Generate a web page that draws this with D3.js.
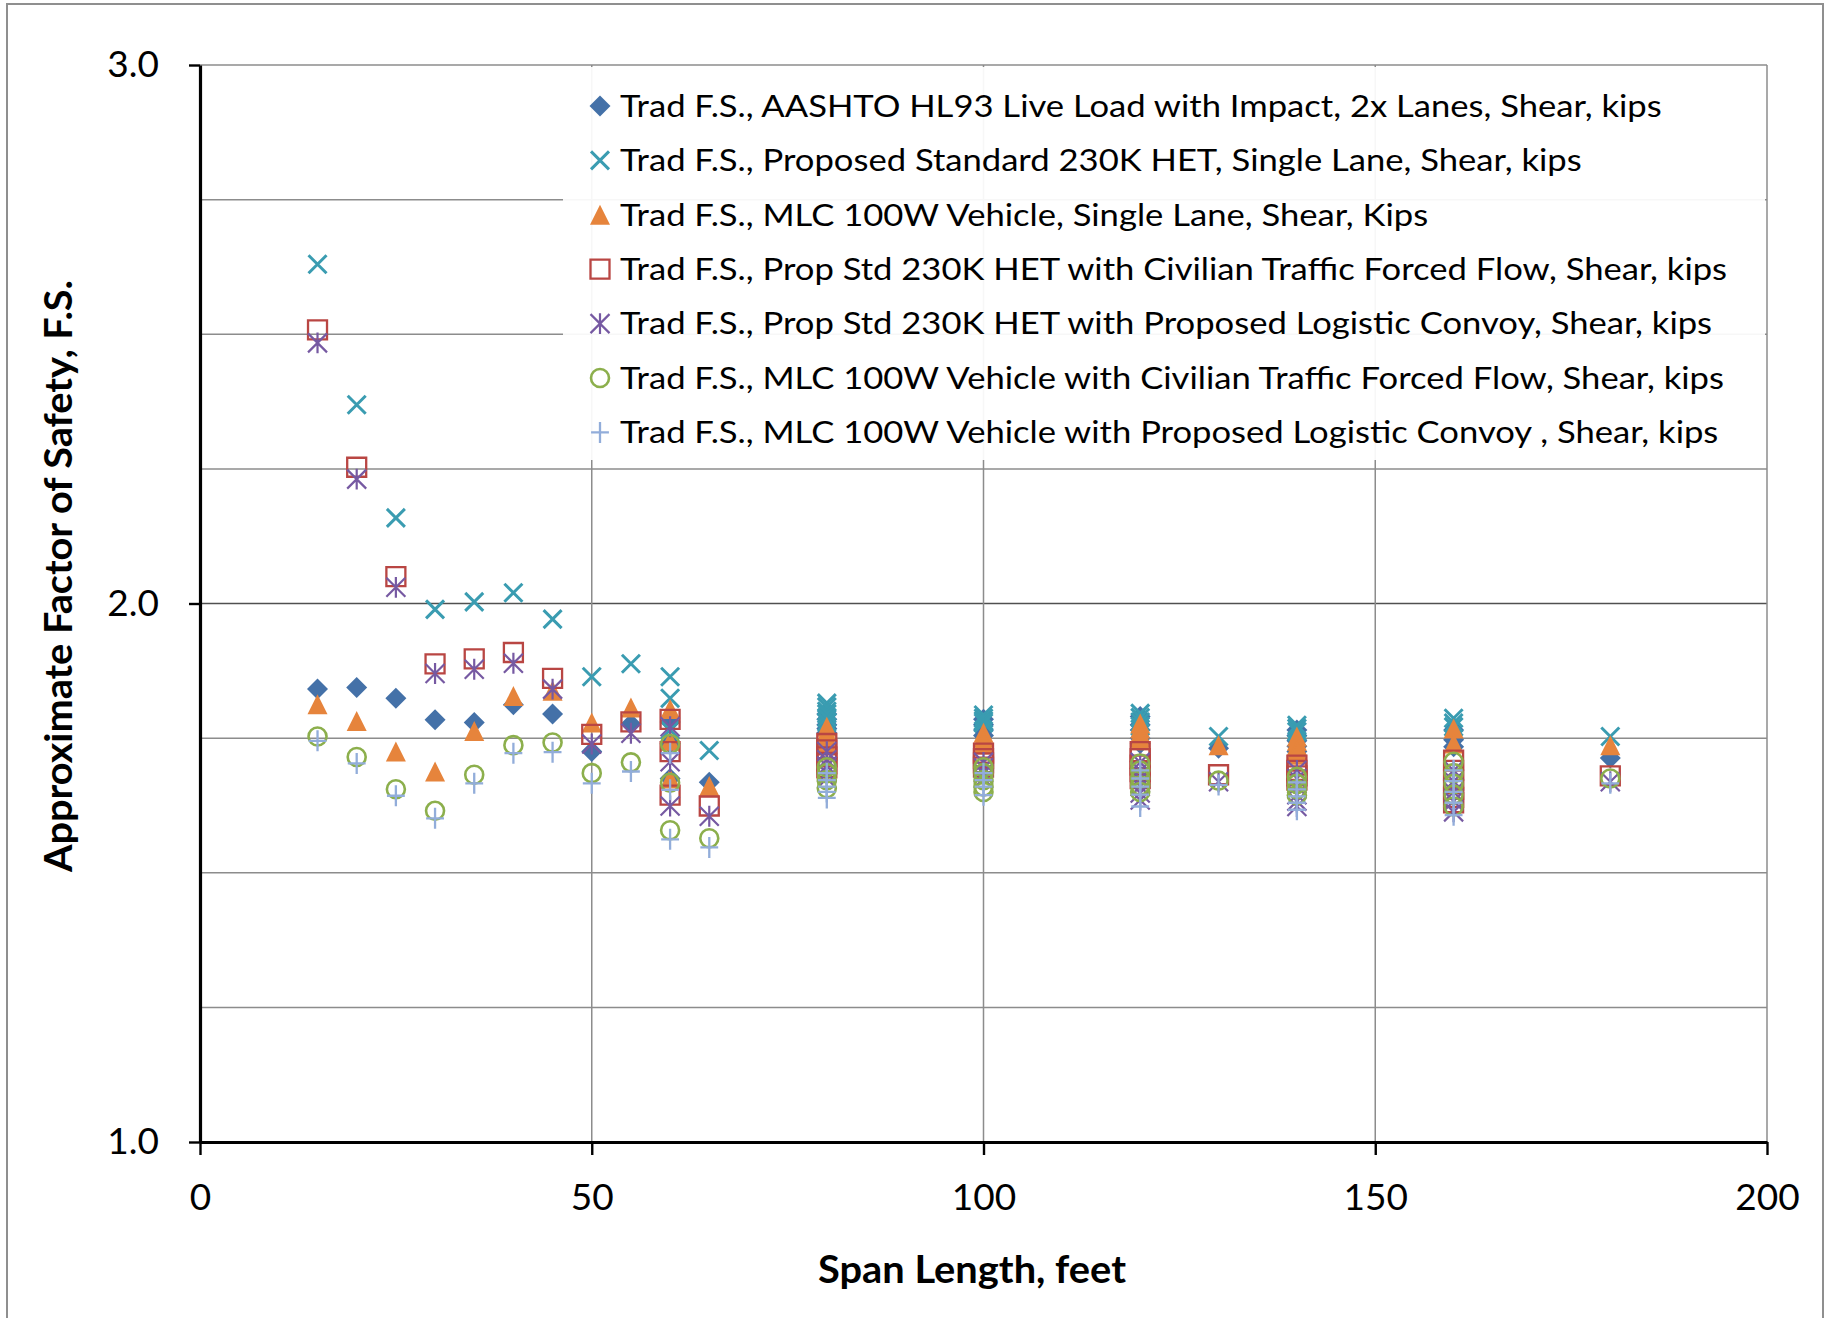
<!DOCTYPE html>
<html><head><meta charset="utf-8">
<script src="https://cdn.jsdelivr.net/npm/d3@7"></script>
<style>
body{margin:0;background:#fff}
text{font-family:Lato, "Open Sans", sans-serif; fill:#000}
</style>
</head><body>
<svg id="chart" width="1827" height="1318"></svg>
<script>
// ---------------- DATA ----------------
const seriesNames = [
  "Trad F.S., AASHTO HL93 Live Load with Impact, 2x Lanes, Shear, kips",
  "Trad F.S., Proposed Standard 230K HET, Single Lane, Shear, kips",
  "Trad F.S., MLC 100W Vehicle, Single Lane, Shear, Kips",
  "Trad F.S., Prop Std 230K HET with Civilian Traffic Forced Flow, Shear, kips",
  "Trad F.S., Prop Std 230K HET with Proposed Logistic Convoy, Shear, kips",
  "Trad F.S., MLC 100W Vehicle with Civilian Traffic Forced Flow, Shear, kips",
  "Trad F.S., MLC 100W Vehicle with Proposed Logistic Convoy , Shear, kips"
];
const xTickValues = [0, 50, 100, 150, 200];
const yTickValues = [1.0, 2.0, 3.0];
const yMinorGrid = [1.25, 1.5, 1.75, 2.25, 2.5, 2.75, 3.0];
const yMajorGrid = [2.0];
const xAxisTitle = "Span Length, feet";
const yAxisTitle = "Approximate Factor of Safety, F.S.";

// [span (ft), factor of safety]
const hl93 = [[15,1.841],[20,1.844],[25,1.824],[30,1.784],[35,1.779],[40,1.812],[45,1.795],[50,1.725],[55,1.776],
  [60,1.78],[60,1.74],[60,1.675],[65,1.668],
  [80,1.795],[80,1.785],[80,1.775],[80,1.768],[80,1.76],
  [100,1.785],[100,1.775],[100,1.765],[100,1.755],
  [120,1.79],[120,1.775],[120,1.765],[120,1.75],[120,1.74],
  [130,1.731],
  [140,1.765],[140,1.755],[140,1.745],[140,1.735],[140,1.725],
  [160,1.765],[160,1.747],[160,1.734],
  [180,1.713]];
const het = [[15,2.630],[20,2.369],[25,2.159],[30,1.989],[35,2.003],[40,2.020],[45,1.971],[50,1.864],[55,1.888],
  [60,1.864],[60,1.824],[60,1.765],[65,1.727],
  [80,1.815],[80,1.808],[80,1.800],[80,1.795],[80,1.788],[80,1.78],
  [100,1.793],[100,1.787],[100,1.782],[100,1.778],
  [120,1.796],[120,1.788],[120,1.78],[120,1.772],
  [130,1.753],
  [140,1.774],[140,1.768],[140,1.762],
  [160,1.787],[160,1.778],[160,1.771],
  [180,1.753]];
const mlc = [[15,1.813],[20,1.782],[25,1.725],[30,1.688],[35,1.763],[40,1.828],[45,1.838],[50,1.779],[55,1.807],
  [60,1.804],[60,1.745],[60,1.675],[65,1.661],
  [80,1.771],[80,1.762],[80,1.752],[80,1.742],
  [100,1.760],[100,1.752],[100,1.745],[100,1.738],
  [120,1.777],[120,1.768],[120,1.76],[120,1.752],[120,1.746],
  [130,1.737],
  [140,1.753],[140,1.745],[140,1.737],[140,1.728],[140,1.719],
  [160,1.768],[160,1.740],
  [180,1.737]];
const hetCivil = [[15,2.508],[20,2.253],[25,2.050],[30,1.888],[35,1.897],[40,1.909],[45,1.861],[50,1.757],[55,1.780],
  [60,1.785],[60,1.725],[60,1.644],[65,1.624],
  [80,1.740],[80,1.728],[80,1.715],[80,1.702],[80,1.695],
  [100,1.722],[100,1.712],[100,1.704],[100,1.696],
  [120,1.725],[120,1.712],[120,1.70],[120,1.688],[120,1.675],
  [130,1.682],
  [140,1.700],[140,1.69],[140,1.68],[140,1.672],
  [160,1.709],[160,1.69],[160,1.672],[160,1.655],[160,1.64],[160,1.630],
  [180,1.680]];
const hetConvoy = [[15,2.484],[20,2.231],[25,2.030],[30,1.870],[35,1.878],[40,1.889],[45,1.841],[50,1.739],[55,1.759],
  [60,1.771],[60,1.706],[60,1.624],[65,1.605],
  [80,1.725],[80,1.71],[80,1.698],[80,1.685],[80,1.675],
  [100,1.705],[100,1.695],[100,1.685],[100,1.675],
  [120,1.705],[120,1.69],[120,1.675],[120,1.66],[120,1.648],[120,1.635],
  [130,1.669],
  [140,1.69],[140,1.675],[140,1.66],[140,1.645],[140,1.633],[140,1.623],
  [160,1.69],[160,1.67],[160,1.65],[160,1.633],[160,1.613],
  [180,1.669]];
const mlcCivil = [[15,1.753],[20,1.715],[25,1.655],[30,1.615],[35,1.682],[40,1.737],[45,1.742],[50,1.685],[55,1.705],
  [60,1.739],[60,1.667],[60,1.579],[65,1.564],
  [80,1.696],[80,1.685],[80,1.672],[80,1.657],
  [100,1.696],[100,1.685],[100,1.672],[100,1.66],[100,1.65],
  [120,1.703],[120,1.69],[120,1.675],[120,1.662],[120,1.65],
  [130,1.671],
  [140,1.678],[140,1.665],[140,1.655],[140,1.644],
  [160,1.706],[160,1.685],[160,1.665],[160,1.645],[160,1.623],
  [180,1.675]];
const mlcConvoy = [[15,1.745],[20,1.703],[25,1.643],[30,1.601],[35,1.666],[40,1.722],[45,1.724],[50,1.666],[55,1.688],
  [60,1.722],[60,1.654],[60,1.562],[65,1.547],
  [80,1.685],[80,1.672],[80,1.66],[80,1.65],[80,1.639],
  [100,1.685],[100,1.672],[100,1.66],[100,1.644],
  [120,1.69],[120,1.675],[120,1.66],[120,1.645],[120,1.623],
  [130,1.663],
  [140,1.668],[140,1.655],[140,1.642],[140,1.63],[140,1.617],
  [160,1.69],[160,1.67],[160,1.65],[160,1.63],[160,1.607],
  [180,1.666]];

// ---------------- SYMBOLS ----------------
const symDiamond = {draw(c,s){const r=Math.sqrt(s)/2;c.moveTo(0,-r);c.lineTo(r,0);c.lineTo(0,r);c.lineTo(-r,0);c.closePath();}};
const symX = {draw(c,s){const r=Math.sqrt(s)/2;c.moveTo(-r,-r);c.lineTo(r,r);c.moveTo(-r,r);c.lineTo(r,-r);}};
const symTri = {draw(c,s){const r=Math.sqrt(s)/2;c.moveTo(0,-r);c.lineTo(r,r);c.lineTo(-r,r);c.closePath();}};
const symSquare = {draw(c,s){const r=Math.sqrt(s)/2;c.rect(-r,-r,2*r,2*r);}};
const symStar = {draw(c,s){const r=Math.sqrt(s)/2;c.moveTo(-r,-r);c.lineTo(r,r);c.moveTo(-r,r);c.lineTo(r,-r);c.moveTo(0,-r*1.1);c.lineTo(0,r*1.1);}};
const symCircle = {draw(c,s){const r=Math.sqrt(s)/2;c.moveTo(r,0);c.arc(0,0,r,0,2*Math.PI);}};
const symPlus = {draw(c,s){const r=Math.sqrt(s)/2;c.moveTo(-r*0.85,0);c.lineTo(r*0.85,0);c.moveTo(0,-r);c.lineTo(0,r);}};

const series = [
  {data:hl93,      type:symDiamond, r:10.5, fill:"#4471A8", stroke:"none",    sw:0},
  {data:het,       type:symX,       r:9,    fill:"none",    stroke:"#3A9CB1", sw:3},
  {data:mlc,       type:symTri,     r:10,   fill:"#E6843C", stroke:"none",    sw:0},
  {data:hetCivil,  type:symSquare,  r:9.5,  fill:"none",    stroke:"#B94643", sw:2.3},
  {data:hetConvoy, type:symStar,    r:9.5,  fill:"none",    stroke:"#7659A2", sw:2.2},
  {data:mlcCivil,  type:symCircle,  r:9,    fill:"none",    stroke:"#8CAF4C", sw:2.6},
  {data:mlcConvoy, type:symPlus,    r:10.5, fill:"none",    stroke:"#92ADDA", sw:2.3}
];

// ---------------- LAYOUT ----------------
const svg = d3.select("#chart");
const L = 200, R = 1767, T = 65, B = 1142;
const x = d3.scaleLinear().domain([0,200]).range([L,R]);
const y = d3.scaleLinear().domain([1,3]).range([B,T]);

// outer border
svg.append("rect").attr("x",7).attr("y",4).attr("width",1816).attr("height",1330)
  .attr("fill","#fff").attr("stroke","#8f8f8f").attr("stroke-width",2);

// gridlines
const grid = svg.append("g");
grid.selectAll(".hmin").data(yMinorGrid).join("line")
  .attr("x1",L).attr("x2",R).attr("y1",d=>y(d)).attr("y2",d=>y(d))
  .attr("stroke","#8c8c8c").attr("stroke-width",1.5);
grid.selectAll(".hmaj").data(yMajorGrid).join("line")
  .attr("x1",L).attr("x2",R).attr("y1",d=>y(d)).attr("y2",d=>y(d))
  .attr("stroke","#505050").attr("stroke-width",1.6);
grid.selectAll(".v").data(xTickValues.filter(d=>d>0)).join("line")
  .attr("x1",d=>x(d)).attr("x2",d=>x(d)).attr("y1",T).attr("y2",B)
  .attr("stroke","#8c8c8c").attr("stroke-width",1.5);

// legend background
const legX = 563, legY = 67, legW = R - 2 - legX, legH = 460 - legY;
svg.append("rect").attr("x",legX).attr("y",legY).attr("width",legW).attr("height",legH)
  .attr("fill","#fff").attr("fill-opacity",0.93);

// axes
const yAxis = d3.axisLeft(y).tickValues(yTickValues).tickSize(11).tickSizeOuter(0)
  .tickPadding(30).tickFormat(d3.format(".1f"));
const gy = svg.append("g").attr("transform",`translate(${L},0)`).call(yAxis);
const xAxis = d3.axisBottom(x).tickValues(xTickValues).tickSize(13).tickSizeOuter(0)
  .tickPadding(29).tickFormat(d3.format("d"));
const gx = svg.append("g").attr("transform",`translate(0,${B})`).call(xAxis);
[gx,gy].forEach(g=>{
  g.select(".domain").attr("stroke","#000").attr("stroke-width",3.2);
  g.selectAll(".tick line").attr("stroke","#000").attr("stroke-width",2.4);
  g.selectAll(".tick text").attr("font-size",37).attr("font-family","Lato, sans-serif").attr("fill","#000");
});

// points
series.forEach(s=>{
  const sym = d3.symbol().type(s.type).size((2*s.r)*(2*s.r));
  svg.append("g").selectAll("path").data(s.data).join("path")
    .attr("transform",d=>`translate(${x(d[0])},${y(d[1])})`)
    .attr("d",sym)
    .attr("fill",s.fill).attr("stroke",s.stroke).attr("stroke-width",s.sw)
    .attr("stroke-linecap","butt");
});

// legend entries
const legMarkerX = 600, legTextX = 620, legY0 = 106, legStep = 54.4;
const leg = svg.append("g");
const legTexts = [];
seriesNames.forEach((name,i)=>{
  const s = series[i];
  const sym = d3.symbol().type(s.type).size((2*s.r)**2);
  leg.append("path").attr("transform",`translate(${legMarkerX},${legY0+i*legStep})`)
    .attr("d",sym).attr("fill",s.fill).attr("stroke",s.stroke).attr("stroke-width",s.sw);
  const t = leg.append("text").attr("x",legTextX).attr("y",legY0+i*legStep).attr("dy","0.36em")
    .attr("font-size",30).text(name);
  legTexts.push(t);
});
// fit legend text widths to the reference (longest entry spans ~1104 px)
const refLen = legTexts[5].node().getComputedTextLength();
const ratio = 1104 / refLen;
legTexts.forEach(t=>{
  const l = t.node().getComputedTextLength();
  t.attr("textLength", l*ratio).attr("lengthAdjust","spacingAndGlyphs");
});

// axis titles
const xt = svg.append("text").attr("x",972).attr("y",1269).attr("dy","0.36em")
  .attr("text-anchor","middle").attr("font-size",38).attr("font-weight","bold").text(xAxisTitle);
xt.attr("textLength",308).attr("lengthAdjust","spacingAndGlyphs");
const yt = svg.append("text").attr("transform","translate(58,576) rotate(-90)").attr("dy","0.36em")
  .attr("text-anchor","middle").attr("font-size",38).attr("font-weight","bold").text(yAxisTitle);
yt.attr("textLength",592).attr("lengthAdjust","spacingAndGlyphs");
</script>
</body></html>
